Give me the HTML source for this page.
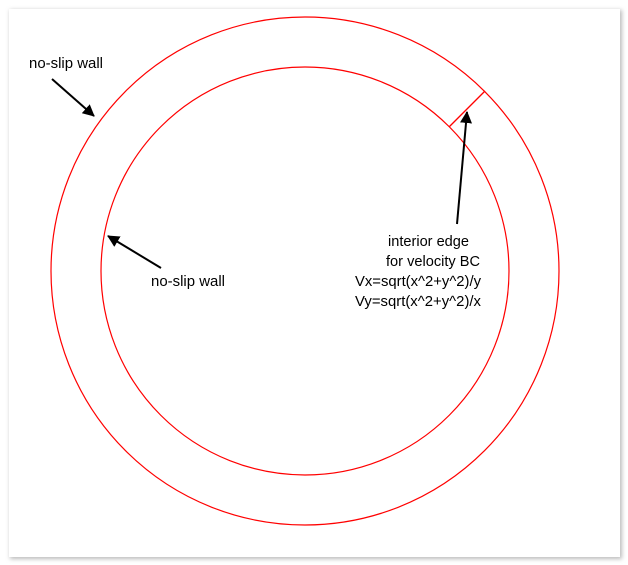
<!DOCTYPE html>
<html><head><meta charset="utf-8"><style>
html,body{margin:0;padding:0;background:#fff;}
svg{display:block;}
text{font-family:"Liberation Sans",sans-serif;font-size:15px;fill:#000;}
</style></head><body>
<svg width="628" height="565" viewBox="0 0 628 565" xmlns="http://www.w3.org/2000/svg">
<defs>
<filter id="sh" x="-5%" y="-5%" width="110%" height="110%"><feGaussianBlur stdDeviation="2"/></filter>
<marker id="ah" markerWidth="12" markerHeight="12" refX="11" refY="6" orient="auto" markerUnits="userSpaceOnUse"><path d="M0,0 L12,6 L0,12 z" fill="#000"/></marker>
</defs>
<rect x="10" y="10" width="612" height="549" fill="#bbb" filter="url(#sh)"/>
<rect x="9" y="9" width="611" height="548" fill="#fff"/>
<circle cx="305" cy="271" r="254" fill="none" stroke="#f00" stroke-width="1.2"/>
<circle cx="305" cy="271" r="204" fill="none" stroke="#f00" stroke-width="1.2"/>
<line x1="449" y1="127" x2="485" y2="91" stroke="#f00" stroke-width="1.3"/>
<line x1="52" y1="79" x2="94" y2="116" stroke="#000" stroke-width="2" marker-end="url(#ah)"/>
<line x1="161" y1="268" x2="108" y2="236" stroke="#000" stroke-width="2" marker-end="url(#ah)"/>
<line x1="457" y1="224" x2="467" y2="112" stroke="#000" stroke-width="2" marker-end="url(#ah)"/>
<text x="29" y="68" textLength="74" lengthAdjust="spacingAndGlyphs">no-slip wall</text>
<text x="151" y="286" textLength="74" lengthAdjust="spacingAndGlyphs">no-slip wall</text>
<text x="388" y="246" textLength="81" lengthAdjust="spacingAndGlyphs">interior edge</text>
<text x="386" y="266" textLength="94" lengthAdjust="spacingAndGlyphs">for velocity BC</text>
<text x="355" y="286" textLength="126" lengthAdjust="spacingAndGlyphs">Vx=sqrt(x^2+y^2)/y</text>
<text x="355" y="306" textLength="126" lengthAdjust="spacingAndGlyphs">Vy=sqrt(x^2+y^2)/x</text>
</svg>
</body></html>
